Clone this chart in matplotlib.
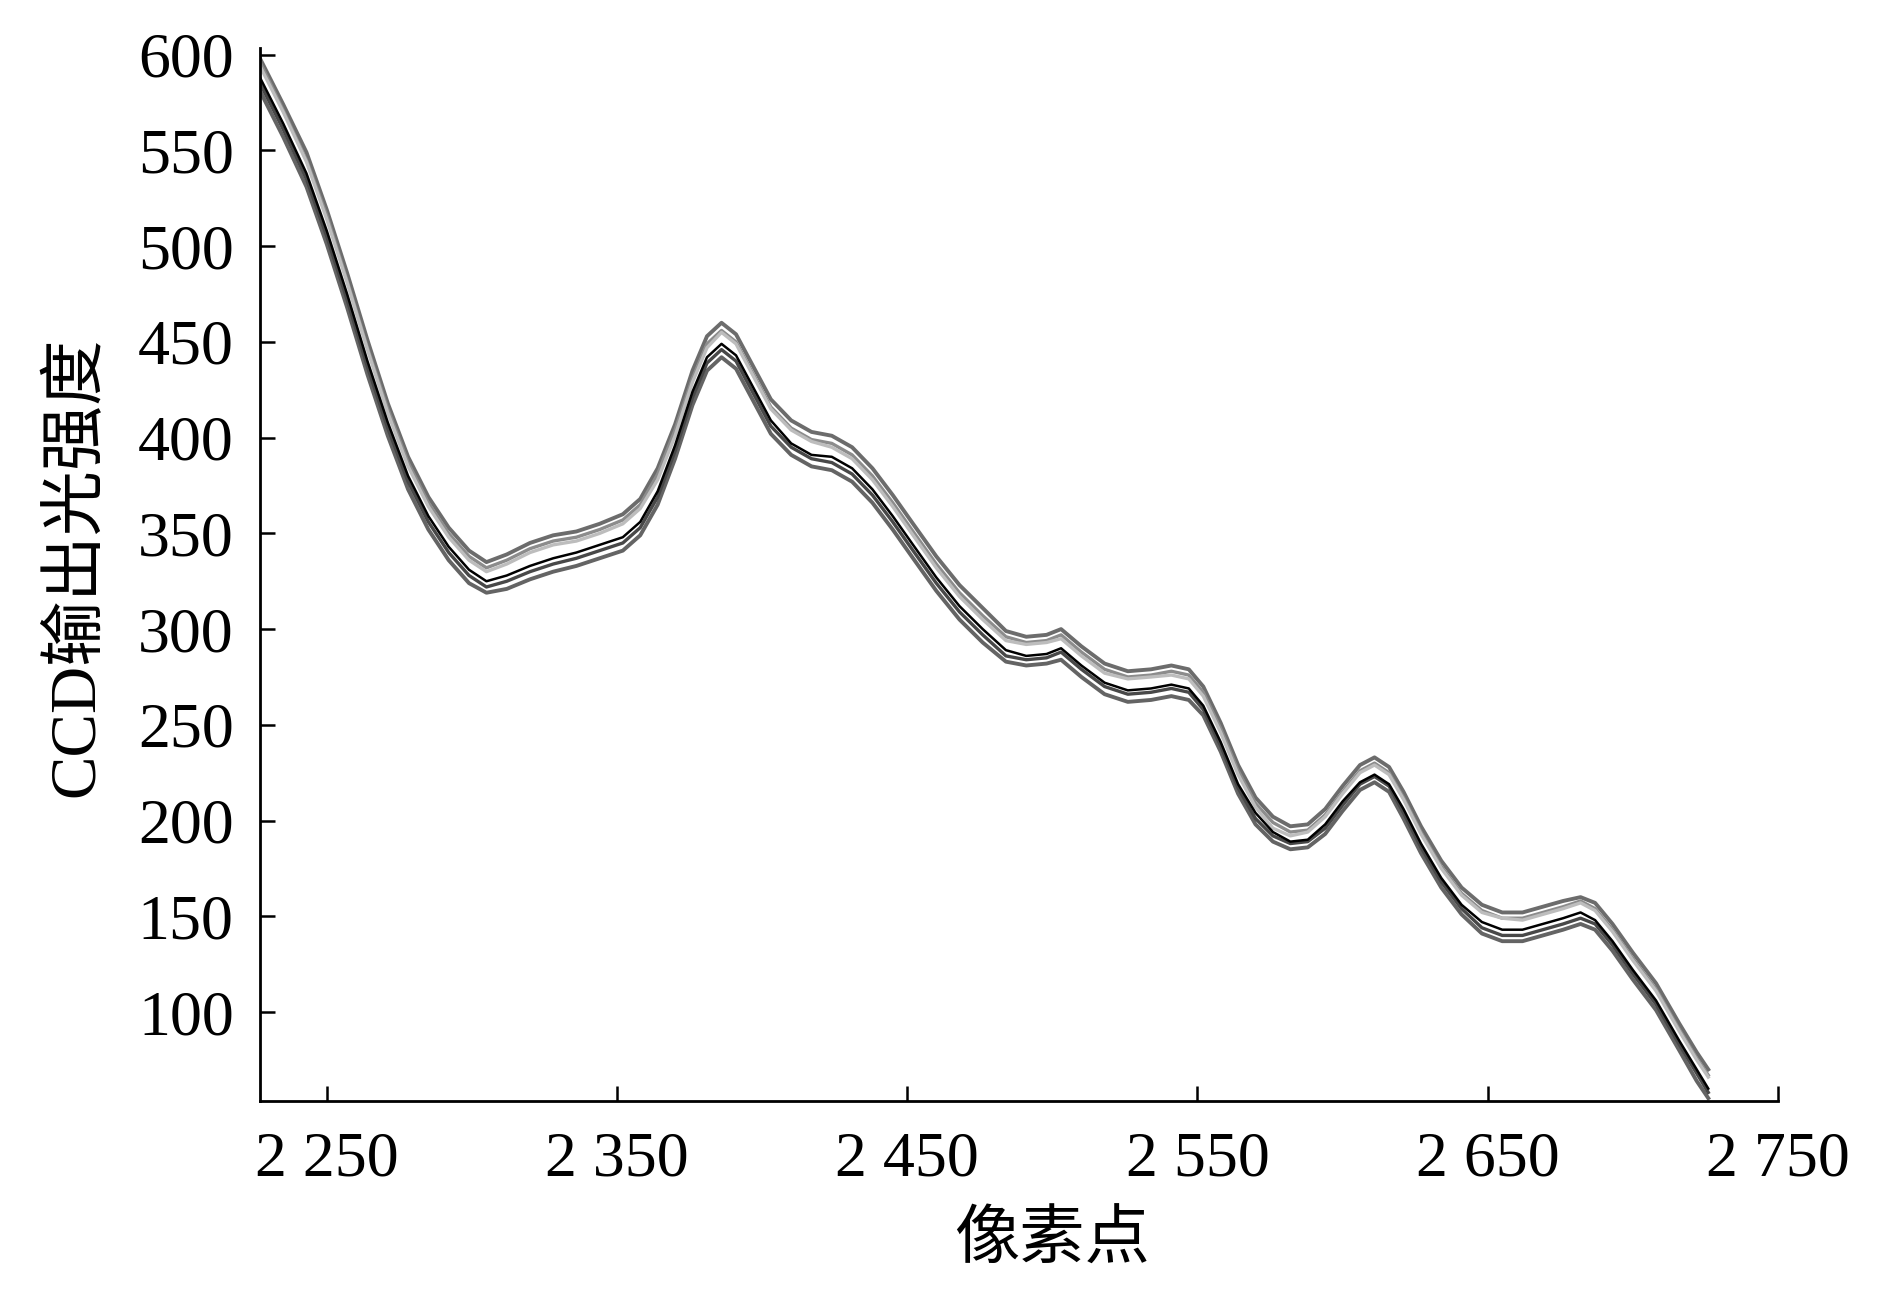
import matplotlib
matplotlib.use("Agg")
import matplotlib.pyplot as plt

plt.rcParams['font.family'] = ['Liberation Serif', 'Noto Sans CJK SC']

# pixel index, shared by every repeated measurement
pixels = [2227, 2235, 2243, 2250, 2257, 2264, 2271, 2278, 2285, 2292,
          2299, 2305, 2312, 2320, 2328, 2336, 2344, 2352, 2358, 2364,
          2370, 2376, 2381, 2386, 2391, 2397, 2403, 2410, 2417, 2424,
          2431, 2438, 2445, 2452, 2460, 2468, 2476, 2484, 2491, 2498,
          2503, 2510, 2518, 2526, 2534, 2541, 2547, 2552, 2558, 2564,
          2570, 2576, 2582, 2588, 2594, 2600, 2606, 2611, 2616, 2621,
          2627, 2634, 2641, 2648, 2655, 2662, 2669, 2676, 2682, 2687,
          2693, 2700, 2708, 2716, 2722, 2726]

run_top = [598, 574, 549, 519, 486, 451, 418, 390, 369, 353,
           341, 335, 339, 345, 349, 351, 355, 360, 368, 384,
           407, 435, 453, 460, 454, 437, 420, 409, 403, 401,
           395, 384, 370, 355, 338, 323, 311, 299, 296, 297,
           300, 291, 282, 278, 279, 281, 279, 270, 251, 229,
           212, 202, 197, 198, 206, 218, 229, 233, 228, 215,
           197, 179, 165, 156, 152, 152, 155, 158, 160, 157,
           146, 131, 115, 94, 79, 70]

run_mid = [596, 571, 545, 516, 482, 447, 415, 387, 366, 350,
           338, 332, 336, 342, 346, 348, 352, 357, 365, 381,
           404, 431, 449, 456, 450, 433, 416, 405, 399, 397,
           391, 380, 366, 351, 334, 319, 307, 296, 293, 294,
           297, 288, 279, 275, 276, 278, 276, 267, 248, 226,
           209, 199, 194, 195, 203, 215, 226, 230, 225, 212,
           194, 176, 162, 153, 149, 149, 152, 155, 158, 154,
           143, 128, 112, 91, 76, 67]

run_light = [594, 570, 544, 514, 481, 446, 413, 385, 364, 348,
             336, 330, 334, 340, 344, 346, 350, 355, 363, 378,
             401, 429, 447, 455, 449, 432, 415, 404, 398, 395,
             389, 378, 364, 349, 332, 317, 305, 294, 292, 293,
             295, 286, 277, 274, 275, 276, 274, 265, 246, 224,
             207, 196, 192, 194, 202, 214, 225, 229, 224, 211,
             193, 175, 161, 152, 149, 148, 151, 154, 157, 153,
             142, 127, 111, 90, 75, 66]

run_black = [588, 564, 538, 508, 475, 440, 408, 380, 359, 343,
             331, 325, 328, 333, 337, 340, 344, 348, 356, 372,
             396, 424, 442, 449, 443, 426, 409, 397, 391, 390,
             384, 373, 359, 344, 327, 312, 300, 289, 286, 287,
             290, 281, 272, 268, 269, 271, 269, 260, 241, 219,
             204, 194, 189, 190, 198, 210, 220, 224, 219, 206,
             188, 170, 156, 147, 143, 143, 146, 149, 152, 148,
             137, 122, 106, 85, 70, 60]

run_dark = [585, 561, 535, 505, 472, 437, 405, 377, 356, 340,
            328, 322, 325, 330, 334, 337, 341, 345, 353, 369,
            393, 421, 439, 446, 440, 423, 406, 395, 389, 387,
            381, 370, 356, 341, 324, 309, 297, 286, 284, 285,
            288, 279, 270, 266, 267, 269, 267, 258, 239, 217,
            201, 192, 188, 189, 196, 208, 219, 223, 218, 204,
            186, 168, 154, 144, 140, 140, 143, 146, 149, 146,
            135, 120, 104, 83, 68, 58]

run_bottom = [581, 557, 531, 501, 468, 433, 401, 373, 352, 336,
              324, 319, 321, 326, 330, 333, 337, 341, 349, 365,
              389, 417, 435, 442, 436, 419, 402, 391, 385, 383,
              377, 366, 352, 337, 320, 305, 293, 283, 281, 282,
              284, 275, 266, 262, 263, 265, 263, 255, 236, 214,
              198, 189, 185, 186, 193, 205, 216, 220, 215, 201,
              183, 165, 151, 141, 137, 137, 140, 143, 146, 143,
              132, 117, 101, 80, 64, 55]

x_ticks = [2250, 2350, 2450, 2550, 2650, 2750]
x_tick_labels = ["2 250", "2 350", "2 450", "2 550", "2 650", "2 750"]
y_ticks = [100, 150, 200, 250, 300, 350, 400, 450, 500, 550, 600]

fig = plt.figure(figsize=(18.9, 12.99), dpi=100)
ax = fig.add_axes([0.1376, 0.1524, 0.8031, 0.8106])

runs = [(run_bottom, "#646464", 2.8),
        (run_top, "#6c6c6c", 2.8),
        (run_dark, "#484848", 2.4),
        (run_mid, "#8c8c8c", 2.4),
        (run_light, "#bdbdbd", 2.4),
        (run_black, "#000000", 1.8)]
for ys, color, lw in runs:
    ax.plot(pixels, ys, color=color, linewidth=lw)

ax.set_xlim(2227, 2750)
ax.set_ylim(53.5, 603.5)
ax.set_xticks(x_ticks)
ax.set_xticklabels(x_tick_labels)
ax.set_yticks(y_ticks)

for side in ["top", "right"]:
    ax.spines[side].set_visible(False)
for side in ["left", "bottom"]:
    ax.spines[side].set_linewidth(2.0)

ax.tick_params(axis="both", direction="in", length=11, width=1.8,
               labelsize=46)
ax.tick_params(axis="x", pad=22)
ax.tick_params(axis="y", pad=19)

ax.set_xlabel("像素点", fontsize=47)
ax.xaxis.set_label_coords(0.522, -0.106)
ax.set_ylabel("CCD输出光强度", fontsize=47, va="center", ha="center")
ax.yaxis.set_label_coords(-0.1206, 0.507)

fig.savefig("out.png", dpi=100)
